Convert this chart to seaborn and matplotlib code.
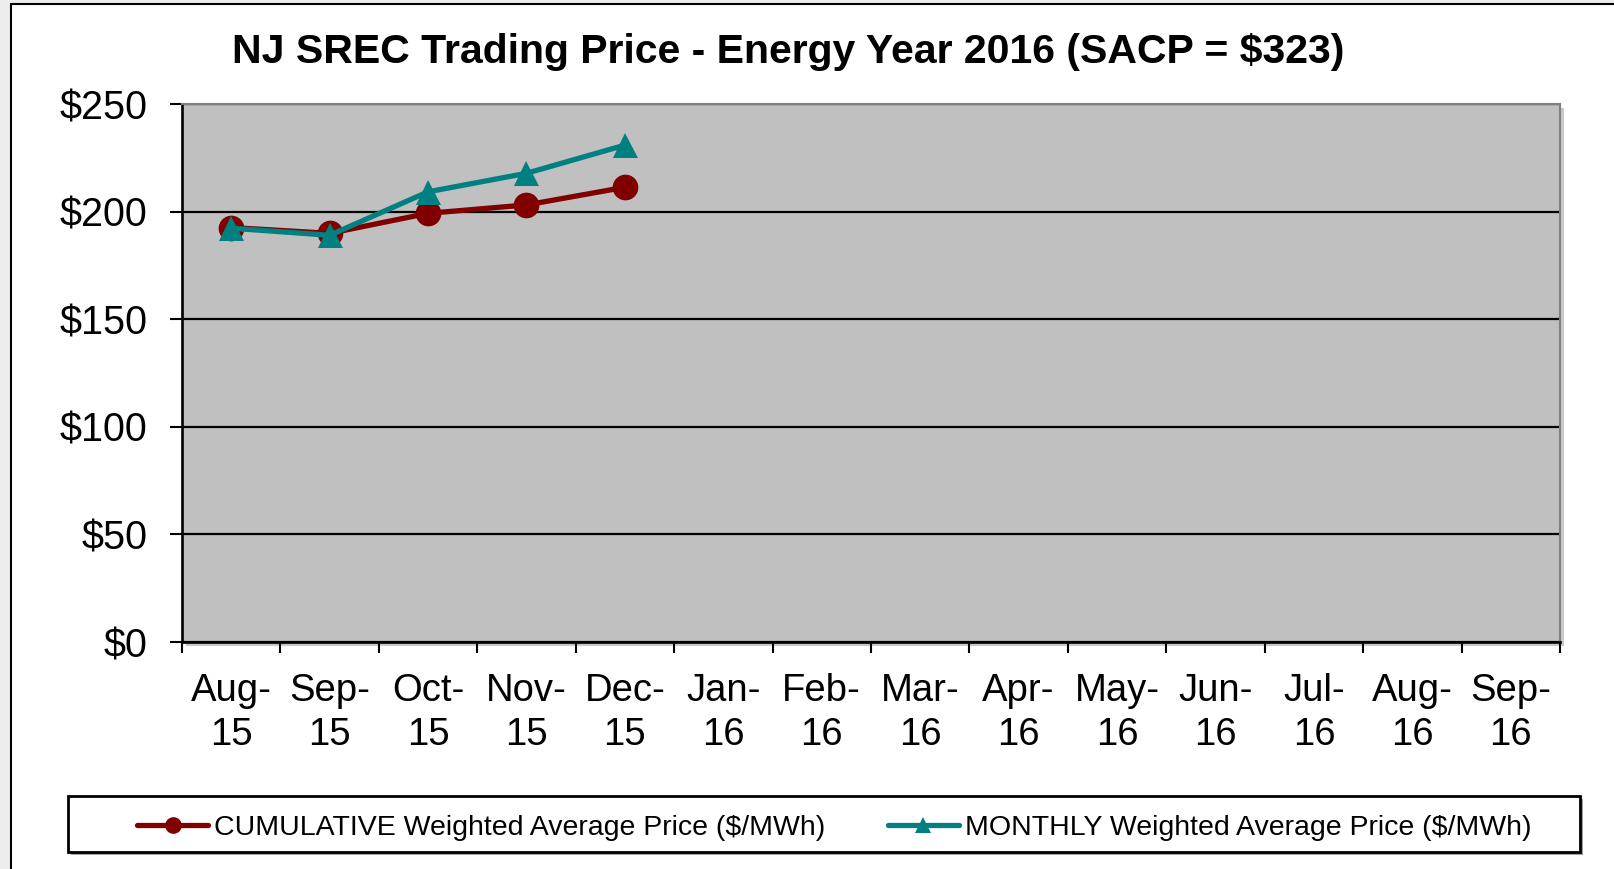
import matplotlib
matplotlib.use("Agg")
import matplotlib.pyplot as plt
import seaborn as sns
import pandas as pd
import numpy as np
from matplotlib.patches import Rectangle
from matplotlib.ticker import FixedLocator, FuncFormatter

# ---- data ----
months = ["Aug-\n15", "Sep-\n15", "Oct-\n15", "Nov-\n15", "Dec-\n15", "Jan-\n16", "Feb-\n16",
          "Mar-\n16", "Apr-\n16", "May-\n16", "Jun-\n16", "Jul-\n16", "Aug-\n16", "Sep-\n16"]
cumulative = [192.6, 189.9, 199.2, 203.1, 211.3]
monthly = [192.3, 189.0, 209.2, 217.8, 230.9]
y_ticks = [0, 50, 100, 150, 200, 250]
title = "NJ SREC Trading Price - Energy Year 2016 (SACP = $323)"
name_cum = "CUMULATIVE Weighted Average Price ($/MWh)"
name_mon = "MONTHLY Weighted Average Price ($/MWh)"

sns.set_style("white")
plt.rcParams['font.family'] = ['Liberation Sans', 'DejaVu Sans']
plt.rcParams['text.color'] = 'black'
plt.rcParams['xtick.color'] = 'black'
plt.rcParams['ytick.color'] = 'black'
plt.rcParams['xtick.labelcolor'] = 'black'
plt.rcParams['ytick.labelcolor'] = 'black'

W, H = 1615, 869
fig = plt.figure(figsize=(W / 100, H / 100), dpi=100)
fig.patch.set_facecolor('#ededed')

# outer chart frame
fig.add_artist(Rectangle((11 / W, -0.1), 1.2, 1.1 - 4 / H, transform=fig.transFigure,
                         facecolor='white', edgecolor='black', lw=1.5, zorder=-3))

left, right, top, bottom = 182, 1560, 104, 642
# plot-area shadow
fig.add_artist(Rectangle(((left + 4) / W, 1 - (bottom + 4) / H), (right - left) / W, (bottom - top) / H,
                         transform=fig.transFigure, facecolor='#c8c8c8', edgecolor='none', zorder=-2))
ax = fig.add_axes([left / W, 1 - bottom / H, (right - left) / W, (bottom - top) / H])
ax.set_facecolor('#c0c0c0')

df_cum = pd.DataFrame({'pos': np.arange(len(cumulative)), 'price': cumulative})
df_mon = pd.DataFrame({'pos': np.arange(len(monthly)), 'price': monthly})

sns.lineplot(data=df_cum, x='pos', y='price', ax=ax, color='#800000', marker='o',
             markersize=18.5, markeredgewidth=0, linewidth=3.8, label=name_cum, zorder=3)
sns.lineplot(data=df_mon, x='pos', y='price', ax=ax, color='#008080', marker='^',
             markersize=18, markeredgewidth=0, linewidth=3.8, label=name_mon, zorder=4)

ax.set_xlim(-0.5, len(months) - 0.5)
ax.set_ylim(0, 250)
ax.set_xlabel('')
ax.set_ylabel('')

ax.xaxis.set_major_locator(FixedLocator(np.arange(len(months))))
ax.set_xticklabels(months, linespacing=1.3)
ax.xaxis.set_minor_locator(FixedLocator(np.arange(len(months) + 1) - 0.5))
ax.tick_params(axis='x', which='major', length=0, pad=22, labelsize=27.5, labelcolor='black')
ax.tick_params(axis='x', which='minor', length=8, width=1.5, color='black', direction='out', bottom=True)

ax.yaxis.set_major_locator(FixedLocator(y_ticks))
ax.yaxis.set_major_formatter(FuncFormatter(lambda v, p: f"${v:.0f}"))
ax.tick_params(axis='y', which='major', length=8.6, width=1.5, color='black', direction='out',
               pad=16, labelsize=28.5, left=True, labelcolor='black')

ax.yaxis.grid(True, color='black', lw=1.6)
ax.xaxis.grid(False)
ax.set_axisbelow(True)

for s in ['left', 'bottom']:
    ax.spines[s].set_color('black')
    ax.spines[s].set_linewidth(1.9)
for s in ['top', 'right']:
    ax.spines[s].set_color('#808080')
    ax.spines[s].set_linewidth(1.5)

fig.text(788.5 / W, 1 - 63 / H, title, ha='center', va='baseline', fontsize=29.5,
         fontweight='bold', color='black')

# legend box
lx0, lx1, ly0, ly1 = 68, 1580, 796, 852
fig.add_artist(Rectangle(((lx0 + 3) / W, 1 - (ly1 + 3) / H), (lx1 - lx0) / W, (ly1 - ly0) / H,
                         transform=fig.transFigure, facecolor='#a0a0a0', edgecolor='none', zorder=5))
fig.add_artist(Rectangle((lx0 / W, 1 - ly1 / H), (lx1 - lx0) / W, (ly1 - ly0) / H,
                         transform=fig.transFigure, facecolor='white', edgecolor='black', lw=2, zorder=6))

handles, labels = ax.get_legend_handles_labels()
ax.get_legend().remove()
leg = fig.legend(handles, labels, ncol=2, loc='center', bbox_to_anchor=(834 / W, 1 - 828 / H),
                 frameon=False, fontsize=20.5, handlelength=2.5, handletextpad=0.2,
                 columnspacing=2.2, markerscale=0.65, labelcolor='black')
leg.set_zorder(7)

fig.savefig('out.png', dpi=100, facecolor=fig.get_facecolor())
